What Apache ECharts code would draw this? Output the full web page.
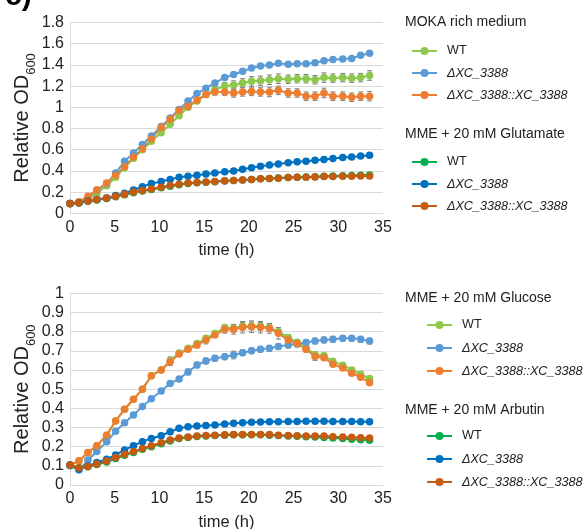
<!DOCTYPE html>
<html><head><meta charset="utf-8">
<script src="https://cdn.jsdelivr.net/npm/echarts@6/dist/echarts.min.js"></script>
<style>html,body{margin:0;padding:0;background:#fff}#c{width:587px;height:529px}</style>
</head><body><div id="c"></div>
<script>
// sampling times (h)
const times = [0,1.0,2.0,3.0,4.1,5.1,6.1,7.1,8.1,9.1,10.2,11.2,12.2,13.2,14.2,15.2,16.2,17.3,18.3,19.3,20.3,21.3,22.3,23.3,24.4,25.4,26.4,27.4,28.4,29.4,30.5,31.5,32.5,33.5];

const strainNames = ['WT','ΔXC_3388','ΔXC_3388::XC_3388'];
const panelTitles = ['MOKA rich medium','MME + 20 mM Glutamate','MME + 20 mM Glucose','MME + 20 mM Arbutin'];

// MOKA rich medium
const mokaWT    = [0.09,0.10,0.13,0.19,0.26,0.34,0.43,0.52,0.60,0.68,0.76,0.84,0.92,1.00,1.06,1.12,1.17,1.20,1.21,1.23,1.245,1.25,1.26,1.27,1.265,1.27,1.27,1.26,1.28,1.275,1.28,1.275,1.28,1.30];
const mokaDelta = [0.093,0.10,0.145,0.22,0.28,0.38,0.49,0.57,0.65,0.73,0.82,0.90,0.98,1.06,1.13,1.18,1.23,1.28,1.31,1.34,1.37,1.39,1.40,1.415,1.405,1.41,1.41,1.42,1.44,1.45,1.455,1.46,1.49,1.51];
const mokaComp  = [0.09,0.11,0.16,0.22,0.285,0.36,0.44,0.53,0.61,0.70,0.81,0.89,0.97,1.01,1.07,1.12,1.145,1.145,1.135,1.145,1.15,1.145,1.145,1.16,1.135,1.135,1.105,1.105,1.135,1.105,1.105,1.095,1.105,1.105];
const mokaWTErr   = [0,0,0,0,0,0,0,0,0,0,0,0,0,0,0.01,0.02,0.03,0.035,0.04,0.04,0.045,0.045,0.045,0.045,0.04,0.04,0.04,0.04,0.045,0.04,0.04,0.04,0.04,0.045];
const mokaCompErr = [0,0,0,0,0,0,0,0,0,0,0,0,0,0,0.01,0.02,0.03,0.035,0.04,0.04,0.04,0.04,0.045,0.04,0.04,0.04,0.04,0.04,0.045,0.04,0.04,0.04,0.04,0.045];

// MME + 20 mM Glutamate
const gluWT    = [0.093,0.10,0.113,0.125,0.14,0.155,0.175,0.195,0.21,0.225,0.24,0.255,0.27,0.28,0.288,0.293,0.298,0.305,0.31,0.315,0.32,0.325,0.328,0.332,0.337,0.34,0.342,0.345,0.35,0.352,0.355,0.357,0.36,0.362];
const gluDelta = [0.093,0.10,0.115,0.13,0.145,0.167,0.19,0.22,0.25,0.28,0.30,0.32,0.34,0.35,0.36,0.37,0.38,0.393,0.40,0.415,0.43,0.445,0.455,0.465,0.477,0.486,0.49,0.50,0.508,0.517,0.526,0.53,0.54,0.548];
const gluComp  = [0.093,0.10,0.115,0.13,0.145,0.16,0.18,0.20,0.215,0.23,0.245,0.263,0.275,0.285,0.29,0.295,0.30,0.306,0.31,0.315,0.32,0.325,0.328,0.33,0.337,0.34,0.34,0.343,0.347,0.347,0.35,0.35,0.353,0.353];

// MME + 20 mM Glucose
const glcWT    = [0.104,0.125,0.168,0.205,0.26,0.334,0.395,0.447,0.50,0.57,0.60,0.648,0.688,0.713,0.738,0.765,0.79,0.822,0.818,0.828,0.83,0.828,0.822,0.80,0.77,0.745,0.715,0.68,0.675,0.645,0.625,0.60,0.578,0.555];
const glcDelta = [0.10,0.078,0.13,0.175,0.225,0.28,0.325,0.365,0.41,0.45,0.49,0.53,0.553,0.59,0.626,0.647,0.661,0.669,0.678,0.69,0.70,0.708,0.713,0.722,0.73,0.736,0.744,0.751,0.757,0.76,0.765,0.765,0.76,0.751];
const glcComp  = [0.104,0.127,0.17,0.205,0.26,0.334,0.395,0.447,0.50,0.57,0.60,0.643,0.683,0.708,0.73,0.756,0.782,0.812,0.812,0.823,0.826,0.823,0.817,0.791,0.756,0.738,0.708,0.67,0.664,0.63,0.61,0.583,0.562,0.534];
const glcWTErr    = [0,0,0,0,0,0,0,0,0,0,0,0.02,0,0.01,0.01,0.015,0.01,0.015,0.02,0.02,0.02,0.02,0.02,0.02,0.015,0.01,0.01,0.015,0.01,0.01,0.01,0.01,0.01,0.01];
const glcDeltaErr = [0,0,0,0,0,0,0,0,0,0,0.01,0.01,0.01,0.015,0.015,0.015,0.015,0.015,0.02,0.015,0.015,0.015,0.015,0.015,0.015,0.015,0.015,0.015,0.015,0.015,0.015,0.015,0.015,0.015];
const glcCompErr  = [0,0,0,0,0,0,0,0,0,0,0,0.02,0,0.01,0.015,0.02,0.01,0.02,0.025,0.03,0.03,0.03,0.025,0.03,0.02,0.015,0.015,0.02,0.01,0.01,0.01,0.01,0.01,0.01];

// MME + 20 mM Arbutin
const arbWT    = [0.104,0.09,0.095,0.107,0.12,0.138,0.155,0.17,0.186,0.20,0.215,0.23,0.242,0.248,0.253,0.256,0.258,0.26,0.262,0.262,0.262,0.262,0.26,0.258,0.256,0.254,0.252,0.25,0.248,0.245,0.242,0.239,0.236,0.233];
const arbDelta = [0.104,0.082,0.099,0.117,0.134,0.157,0.183,0.205,0.226,0.243,0.257,0.278,0.296,0.304,0.308,0.31,0.313,0.318,0.322,0.325,0.327,0.328,0.33,0.33,0.331,0.331,0.332,0.332,0.332,0.331,0.331,0.331,0.33,0.33];
const arbComp  = [0.104,0.09,0.097,0.11,0.125,0.143,0.16,0.175,0.19,0.205,0.22,0.235,0.245,0.25,0.255,0.258,0.26,0.262,0.264,0.264,0.264,0.264,0.263,0.26,0.258,0.257,0.256,0.256,0.255,0.252,0.25,0.249,0.247,0.245];

const FONT = "'Liberation Sans', Arial, sans-serif";
const TXT = '#222';
const GRIDC = '#d9d9d9';

const groups = [
  {key:'MOKA', gi:0, vals:[mokaWT,mokaDelta,mokaComp], errs:[mokaWTErr,null,mokaCompErr], colors:['#8cc84b','#5b9bd5','#ed7d31'], legendLeft:411, legendTop:44, titleTop:14, gap:8},
  {key:'GLU',  gi:0, vals:[gluWT,gluDelta,gluComp], errs:[null,null,null], colors:['#00b050','#0070c0','#c55a11'], legendLeft:411, legendTop:155, titleTop:126, gap:8},
  {key:'GLC',  gi:1, vals:[glcWT,glcDelta,glcComp], errs:[glcWTErr,glcDeltaErr,glcCompErr], colors:['#8cc84b','#5b9bd5','#ed7d31'], legendLeft:426, legendTop:318, titleTop:290, gap:9},
  {key:'ARB',  gi:1, vals:[arbWT,arbDelta,arbComp], errs:[null,null,null], colors:['#00b050','#0070c0','#c55a11'], legendLeft:426, legendTop:429, titleTop:402, gap:9}
];

const series = [];
groups.forEach(g => {
  g.vals.forEach((vals, k) => {
    const err = g.errs[k];
    if (err) {
      series.push({
        type:'custom', name:g.key+'-err-'+k, xAxisIndex:g.gi, yAxisIndex:g.gi, z:1,
        encode:{x:0,y:1}, silent:true,
        data: times.map((t,i)=>[t, vals[i], err[i]]).filter(d=>d[2]>0),
        renderItem:(params, api) => {
          const x = api.value(0), y = api.value(1), e = api.value(2);
          const p1 = api.coord([x, y+e]), p2 = api.coord([x, y-e]);
          const w = 2.5, st = {stroke:'#7f7f7f', lineWidth:1};
          return {type:'group', children:[
            {type:'line', shape:{x1:p1[0],y1:p1[1],x2:p2[0],y2:p2[1]}, style:st},
            {type:'line', shape:{x1:p1[0]-w,y1:p1[1],x2:p1[0]+w,y2:p1[1]}, style:st},
            {type:'line', shape:{x1:p2[0]-w,y1:p2[1],x2:p2[0]+w,y2:p2[1]}, style:st}
          ]};
        }
      });
    }
    series.push({
      type:'line', name:g.key+'|'+strainNames[k], xAxisIndex:g.gi, yAxisIndex:g.gi, z:3,
      data: times.map((t,i)=>[t, vals[i]]),
      symbol:'circle', symbolSize:7.5, showSymbol:true,
      lineStyle:{width:2, color:g.colors[k]}, itemStyle:{color:g.colors[k]},
      emphasis:{disabled:true}
    });
  });
});

const yName = '{a|Relative OD}{b|600}';
const yNameStyle = {rich:{
  a:{fontFamily:FONT, fontSize:20, lineHeight:20, verticalAlign:'top', color:TXT},
  b:{fontFamily:FONT, fontSize:13, lineHeight:26, verticalAlign:'bottom', color:TXT}
}};

function xAxis(gi){ return {type:'value', gridIndex:gi, min:0, max:35, interval:5,
  name:'time (h)', nameLocation:'middle', nameGap:29, nameMoveOverlap:false,
  nameTextStyle:{fontFamily:FONT, fontSize:16.5, color:TXT},
  axisLine:{show:true, lineStyle:{color:GRIDC}}, axisTick:{show:false},
  axisLabel:{fontFamily:FONT, fontSize:16, color:TXT, margin:6},
  splitLine:{show:false}}; }
function yAxis(gi, max, interval){ return {type:'value', gridIndex:gi, min:0, max, interval,
  name:yName, nameLocation:'middle', nameGap:32, nameMoveOverlap:false, nameTextStyle:yNameStyle,
  axisLine:{show:true, lineStyle:{color:GRIDC}}, axisTick:{show:false},
  axisLabel:{fontFamily:FONT, fontSize:16, color:TXT, margin:6},
  splitLine:{show:true, lineStyle:{color:GRIDC, width:1}}}; }

const option = {
  animation:false,
  backgroundColor:'#fff',
  textStyle:{fontFamily:FONT},
  grid:[
    {left:70, top:22.5, width:313, height:190.8, containLabel:false, outerBoundsMode:'none'},
    {left:70, top:293.3, width:313, height:191.7, containLabel:false, outerBoundsMode:'none'}
  ],
  xAxis:[xAxis(0), xAxis(1)],
  yAxis:[yAxis(0,1.8,0.2), yAxis(1,1,0.1)],
  title: groups.map((g,i)=>({text:panelTitles[i], left:405, top:g.titleTop, padding:0,
    textStyle:{fontFamily:FONT, fontSize:14, fontWeight:'normal', color:TXT, lineHeight:16}})),
  legend: groups.map(g=>({
    left:g.legendLeft, top:g.legendTop, orient:'vertical', padding:0,
    itemWidth:25, itemHeight:10, itemGap:g.gap, selectedMode:false,
    data: strainNames.map(s=>g.key+'|'+s),
    formatter: n => { const s = n.split('|')[1]; return s==='WT' ? s : '{it|'+s+'}'; },
    textStyle:{fontFamily:FONT, fontSize:12.6, color:TXT, lineHeight:14, padding:[0,0,0,5],
      rich:{it:{fontFamily:FONT, fontSize:12.6, color:TXT, lineHeight:14, fontStyle:'italic'}}}
  })),
  graphic:[{type:'text', left:5, top:-18, style:{text:'c)', font:"bold 30px 'Liberation Sans', Arial", fill:'#000'}}],
  series
};
const chart = echarts.init(document.getElementById('c'), null, {renderer:'canvas'});
chart.setOption(option);
</script>
</body></html>
